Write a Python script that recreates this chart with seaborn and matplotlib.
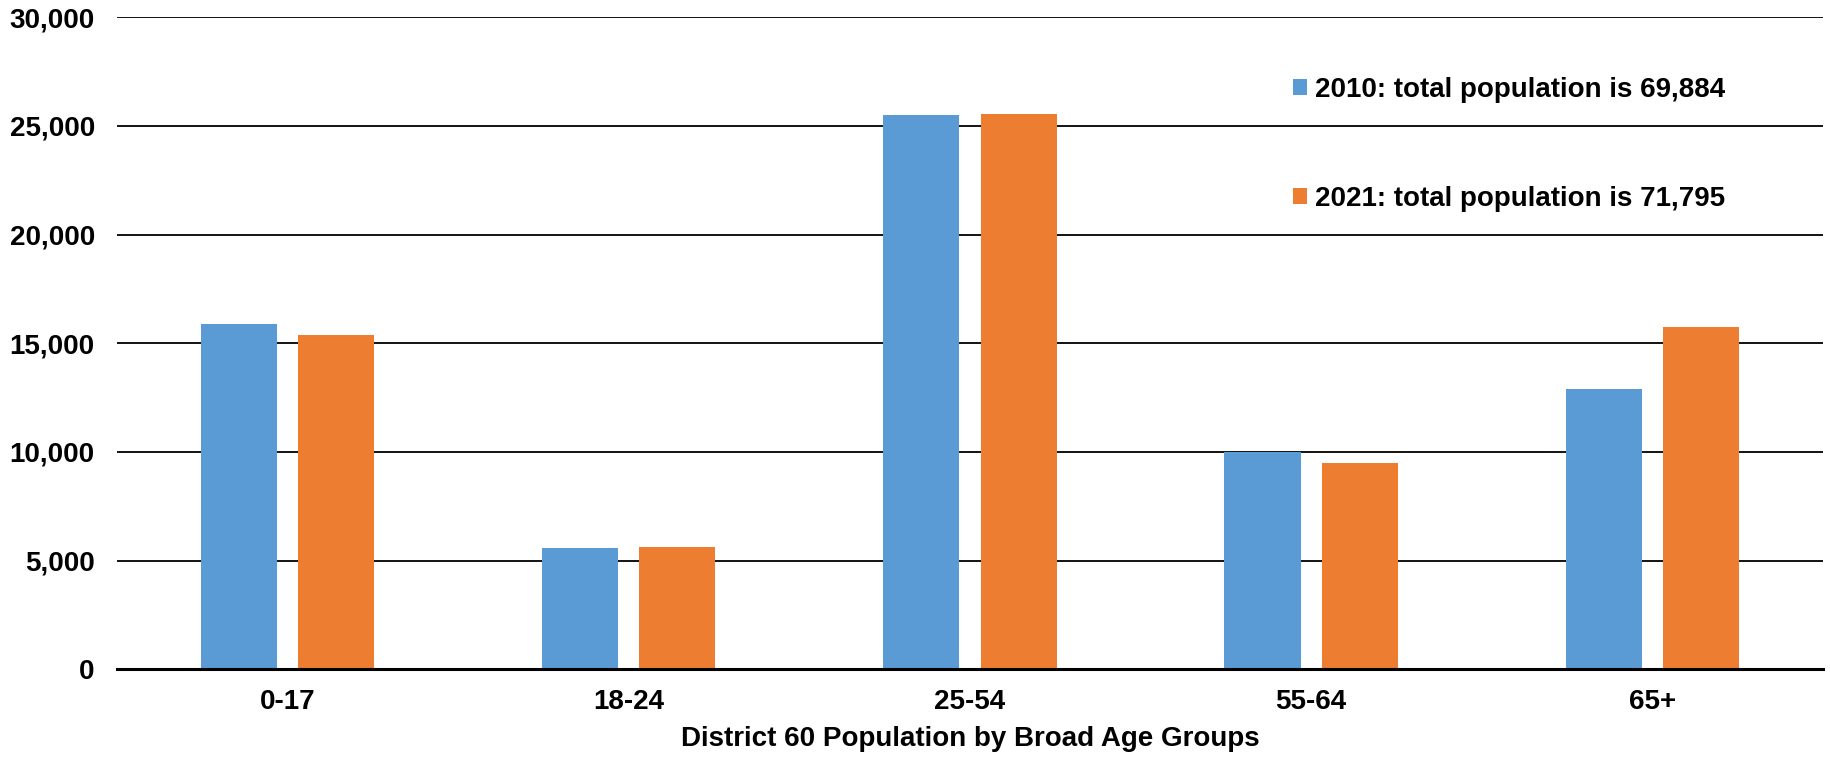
import matplotlib
matplotlib.use("Agg")
import matplotlib.pyplot as plt
import seaborn as sns
import pandas as pd
from matplotlib.ticker import FuncFormatter

categories = ["0-17", "18-24", "25-54", "55-64", "65+"]
series_names = ["2010: total population is 69,884", "2021: total population is 71,795"]
values_2010 = [15874, 5570, 25524, 10014, 12884]
values_2021 = [15368, 5620, 25570, 9494, 15736]
xlabel = "District 60 Population by Broad Age Groups"
colors = ["#5B9BD5", "#ED7D31"]

df = pd.DataFrame({
    "age": categories * 2,
    "series": [series_names[0]] * 5 + [series_names[1]] * 5,
    "pop": values_2010 + values_2021,
})

sns.set_theme(style="white")
plt.rcParams["font.family"] = ["Liberation Sans", "DejaVu Sans"]
plt.rcParams["font.weight"] = "bold"

FS = 20

fig = plt.figure(figsize=(18.31, 7.58), dpi=100)
ax = fig.add_axes([0.0639, 0.1169, 0.9317, 0.8604])

sns.barplot(data=df, x="age", y="pop", hue="series", order=categories,
            hue_order=series_names, palette=colors, width=0.57, gap=0.217,
            saturation=1, ax=ax, errorbar=None, linewidth=0)

ax.set_ylim(0, 30000)
ax.set_xlim(-0.5, 4.5)
ax.set_yticks(range(0, 30001, 5000))
ax.yaxis.set_major_formatter(FuncFormatter(lambda v, p: f"{int(v):,}"))
ax.grid(axis="y", color="black", linewidth=1.3)
ax.set_axisbelow(True)
for s in ["left", "right", "top"]:
    ax.spines[s].set_visible(False)
ax.spines["bottom"].set_color("black")
ax.spines["bottom"].set_linewidth(2.2)
ax.tick_params(axis="both", length=0, labelsize=FS, colors="black")
ax.tick_params(axis="y", pad=16)
ax.tick_params(axis="x", pad=14)
for lbl in ax.get_xticklabels() + ax.get_yticklabels():
    lbl.set_fontweight("bold")
ax.set_xlabel(xlabel, fontsize=FS, fontweight="bold", color="black", labelpad=8)
ax.set_ylabel("")

leg = ax.legend(loc="upper left", bbox_to_anchor=(0.681, 0.93), frameon=False,
                fontsize=FS, handlelength=0.5, handleheight=0.5,
                handletextpad=0.3, labelspacing=3.0, borderpad=0)
for t in leg.get_texts():
    t.set_fontweight("bold")
    t.set_color("black")

fig.savefig("out.png", dpi=100)
